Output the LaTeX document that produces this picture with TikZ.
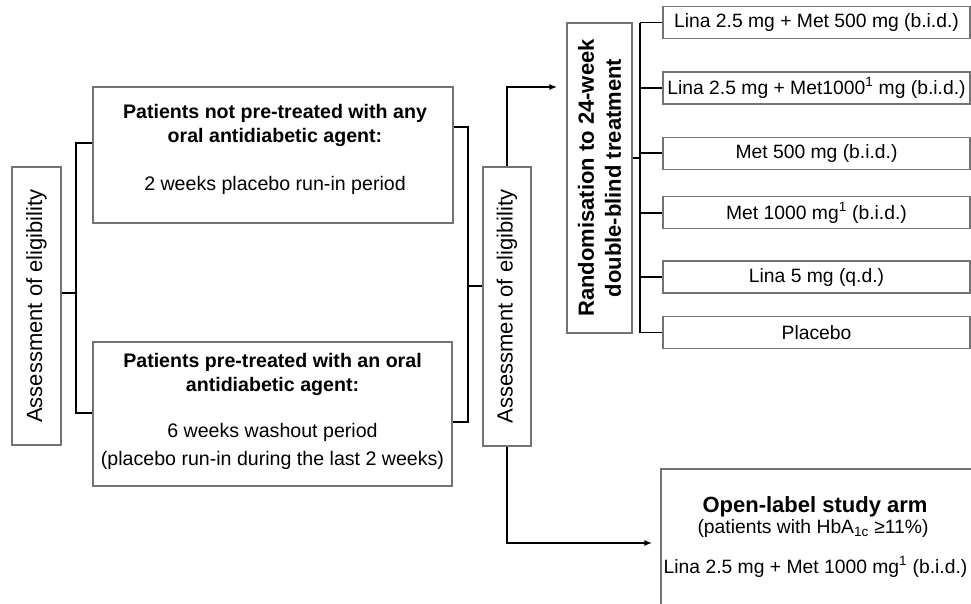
\documentclass[tikz,border=0pt]{standalone}
\usepackage{fontspec}
\setmainfont{Liberation Sans}
\usetikzlibrary{arrows.meta, positioning}
\newcommand{\txtfont}{\fontsize{19.3}{24}\selectfont}
\newcommand{\prefont}{\fontsize{19.6}{24}\selectfont}
\newcommand{\bigfont}{\fontsize{22}{27}\selectfont}
\tikzset{> = { Latex[length = 8pt, width = 6pt] }}

\begin{document}
\begin{tikzpicture}[x = 1pt, y = -1pt,
    box/.style  = { draw = black!55, line width = 1.4pt, inner sep = 0pt, font = \txtfont, align = center },
    vbox/.style = { box, rotate = 90, font = \bigfont },
    arm/.style  = { box, minimum width = 307pt, minimum height = 32pt },
    link/.style = { line width = 1.8pt }]
		\useasboundingbox (0,0) rectangle (971,603);

		% screening
		\node [vbox, minimum width = 278pt, minimum height = 49pt] (elig1) at (36.5,306) {Assessment of eligibility};
		\node [box, minimum width = 360pt, minimum height = 136pt] (pre0) at (273,155) {};
		\node [font = \prefont, align = center] (pre0txt) at (275,149) {\textbf{Patients not pre-treated with any}\\\textbf{oral antidiabetic agent:}\\[24pt]2 weeks placebo run-in period};
		\node [box, minimum width = 359pt, minimum height = 144pt] (pre1) at (272.5,414) {};
		\node [font = \prefont, align = center] (pre1txt) at (272.5,411) {\textbf{Patients pre-treated with an oral}\\\textbf{antidiabetic agent:}\\[22pt]6 weeks washout period\\[4pt](placebo run-in during the last 2 weeks)};
		\node [vbox, minimum width = 279pt, minimum height = 48pt] (elig2) at (507,306.5) {Assessment of eligibility};

		% randomised arms
		\node [vbox, minimum width = 310pt, minimum height = 65pt, font = \bigfont\bfseries] (rand) at (599.5,178) {Randomisation to 24-week\\double-blind treatment};
		\node [arm] (arm1) at (816.5,22.5) {Lina 2.5 mg + Met 500 mg (b.i.d.)};
		\node [arm, below = 32pt of arm1] (arm2) {Lina 2.5 mg + Met1000\textsuperscript{1} mg (b.i.d.)};
		\node [arm, below = 32pt of arm2] (arm3) {Met 500 mg (b.i.d.)};
		\node [arm, below = 26pt of arm3] (arm4) {Met 1000 mg\textsuperscript{1} (b.i.d.)};
		\node [arm, below = 31pt of arm4] (arm5) {Lina 5 mg (q.d.)};
		\node [arm, below = 22pt of arm5] (arm6) {Placebo};

		% open-label arm
		\node [box, minimum width = 313pt, minimum height = 148pt] (open) at (817.5,543) {};
		\node [anchor = base, font = \bigfont\bfseries] (openttl) at (815,512) {Open-label study arm};
		\node [anchor = base, font = \txtfont] (opensub) at (813,533) {(patients with HbA\textsubscript{1c} ≥11\%)};
		\node [anchor = base, font = \txtfont] (opendose) at (815.5,573) {Lina 2.5 mg + Met 1000 mg\textsuperscript{1} (b.i.d.)};

		\coordinate (lj) at (76,293);
		\coordinate (rj) at (468,286);
		\coordinate (rb) at (640,158);

		\draw [link] ([yshift = 13pt]elig1.south) -- (lj);
		\draw [link] ([yshift = 12pt]pre0.west) -| (lj) |- ([yshift = 1pt]pre1.west);
		\draw [link] ([yshift = 28pt]pre0.east) -| (rj) |- ([yshift = -8pt]pre1.east);
		\draw [link] (rj) -- (rj -| elig2.north);

		\draw [link, ->, shorten > = 9pt] (elig2.east) |- ([yshift = 91pt]rand.north);
		\draw [link, ->, shorten > = 8pt] (elig2.west) |- (open.west);

		\draw [link] ([yshift = 20pt]rand.south) -- (rb);
		\draw [link] (rb |- arm1.west) -- (rb |- arm6.west);
		\foreach \i in {1,...,6}
			\draw [link] (rb |- arm\i.west) -- (arm\i.west);
	\end{tikzpicture}
\end{document}
